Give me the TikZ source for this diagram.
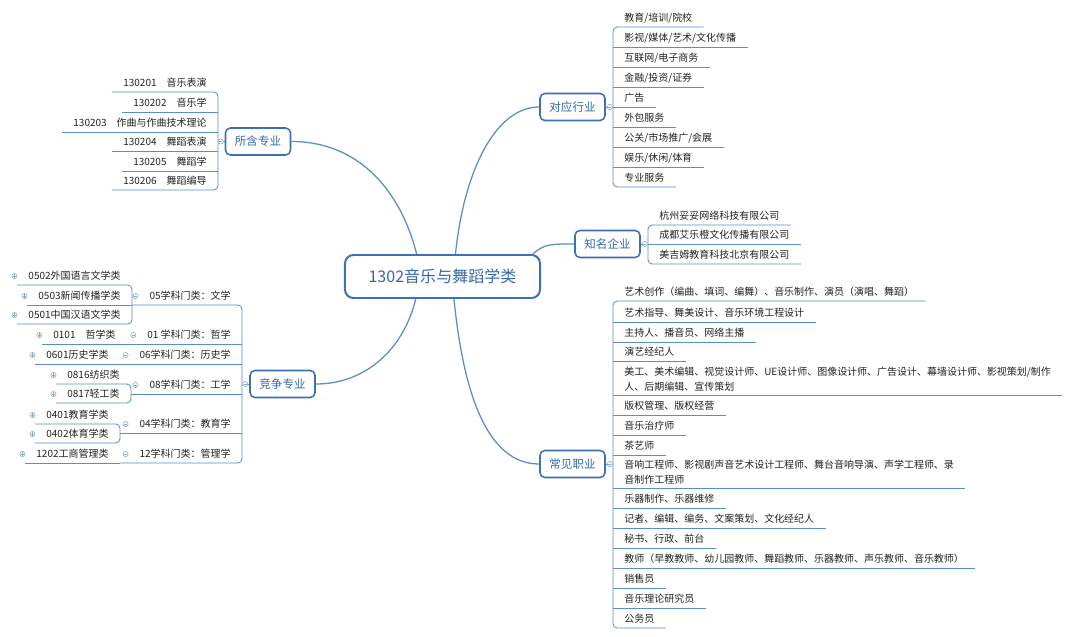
\documentclass[tikz,border=0pt]{standalone}
\usepackage{fontspec}
\setmainfont{Noto Sans CJK SC}

\definecolor{linkblue}{HTML}{5B8DCB}
\definecolor{boxblue}{HTML}{3E70B4}
\definecolor{textblue}{HTML}{3468AE}
\definecolor{markgray}{HTML}{8EA6C6}
\definecolor{leaftext}{HTML}{222222}

\tikzset{
rootbox/.style={draw=boxblue, line width=1.4pt, rounded corners=6pt, fill=white,
  text=textblue, minimum width=4.875cm, minimum height=1.075cm,
  font=\fontsize{11.4}{13}\selectfont},
branchbox/.style={draw=boxblue, line width=1.1pt, rounded corners=3.5pt, fill=white,
  text=textblue, minimum width=1.625cm, minimum height=0.675cm,
  font=\fontsize{8.2}{9.5}\selectfont},
topic/.style={inner xsep=0.28cm, inner ysep=2.4pt, text height=6.2pt, text depth=1.3pt, text=leaftext},
topictwo/.style={inner xsep=0.28cm, inner ysep=2.4pt, align=left, text=leaftext},
link/.style={draw=linkblue, line width=0.9pt},
uline/.style={draw=linkblue, line width=0.6pt, rounded corners=3pt},
markminus/.style={circle, draw=markgray, line width=0.4pt, fill=white, inner sep=0pt, minimum size=0.13cm,
  path picture={\draw[markgray, line width=0.4pt]
    ([xshift=-0.04cm]path picture bounding box.center) -- ([xshift=0.04cm]path picture bounding box.center);}},
markplus/.style={circle, draw=markgray, line width=0.4pt, fill=white, inner sep=0pt, minimum size=0.13cm,
  path picture={\draw[markgray, line width=0.4pt]
    ([xshift=-0.04cm]path picture bounding box.center) -- ([xshift=0.04cm]path picture bounding box.center)
    ([yshift=-0.04cm]path picture bounding box.center) -- ([yshift=0.04cm]path picture bounding box.center);}}
}

\begin{document}
\begin{tikzpicture}[x=0.025cm, y=-0.025cm, font=\fontsize{7.1}{10.7}\selectfont]

\useasboundingbox[fill=white] (0,0) rectangle (1080,637);

%%%%%%%%%%%%%%%%%%%%%%%%%%%%%%%%%%%%%%%%%%%%%%%%%%%%%%%%%%%%
% ROOT AND MAIN BRANCHES
%%%%%%%%%%%%%%%%%%%%%%%%%%%%%%%%%%%%%%%%%%%%%%%%%%%%%%%%%%%%

\node[rootbox](root) at (442.5,276.5) {1302音乐与舞蹈学类};

\node[branchbox](zhuanye) at (258,141.5) {所含专业};
\node[branchbox](hangye) at (572.5,107) {对应行业};
\node[branchbox](qiye) at (607.5,244) {知名企业};
\node[branchbox](jingzheng) at (282.5,384) {竞争专业};
\node[branchbox](zhiye) at (572.5,464) {常见职业};

\draw[link] (root.139) .. controls +(-15,-60) and +(70,0) .. (zhuanye.east);
\draw[link] (root.60) .. controls +(8,-80) and +(-45,0) .. (hangye.west);
\draw[link] (root.14) .. controls +(12,-10) and +(-25,0) .. (qiye.west);
\draw[link] (root.220) .. controls +(-12,50) and +(50,0) .. (jingzheng.east);
\draw[link] (root.297) .. controls +(10,100) and +(-50,0) .. (zhiye.west);

%%%%%%%%%%%%%%%%%%%%%%%%%%%%%%%%%%%%%%%%%%%%%%%%%%%%%%%%%%%%
% 对应行业
%%%%%%%%%%%%%%%%%%%%%%%%%%%%%%%%%%%%%%%%%%%%%%%%%%%%%%%%%%%%

\node[topic, anchor=south west](hy1) at (613,27) {教育/培训/院校};
\node[topic, anchor=south west](hy2) at (613,47) {影视/媒体/艺术/文化传播};
\node[topic, anchor=south west](hy3) at (613,67) {互联网/电子商务};
\node[topic, anchor=south west](hy4) at (613,87) {金融/投资/证券};
\node[topic, anchor=south west](hy5) at (613,107) {广告};
\node[topic, anchor=south west](hy6) at (613,127) {外包服务};
\node[topic, anchor=south west](hy7) at (613,147) {公关/市场推广/会展};
\node[topic, anchor=south west](hy8) at (613,167) {娱乐/休闲/体育};
\node[topic, anchor=south west](hy9) at (613,187) {专业服务};

\draw[uline] (hy1.south east) -- (hy1.south west) -- (hy9.south west) -- (hy9.south east);
\foreach \k in {2,...,8}
  \draw[uline] (hy\k.south west) -- (hy\k.south east);
\draw[uline] (hangye.east) -- (hangye.east -| hy1.south west);
\node[markminus](hym) at ([xshift=0.1cm]hangye.east) {};

%%%%%%%%%%%%%%%%%%%%%%%%%%%%%%%%%%%%%%%%%%%%%%%%%%%%%%%%%%%%
% 知名企业
%%%%%%%%%%%%%%%%%%%%%%%%%%%%%%%%%%%%%%%%%%%%%%%%%%%%%%%%%%%%

\node[topic, anchor=south west](qy1) at (648,225) {杭州妥妥网络科技有限公司};
\node[topic, anchor=south west](qy2) at (648,244) {成都艾乐橙文化传播有限公司};
\node[topic, anchor=south west](qy3) at (648,264) {美吉姆教育科技北京有限公司};

\draw[uline] (qy1.south east) -- (qy1.south west) -- (qy3.south west) -- (qy3.south east);
\draw[uline] (qy2.south west) -- (qy2.south east);
\draw[uline] (qiye.east) -- (qy2.south west);
\node[markminus](qym) at ([xshift=0.1cm]qiye.east) {};

%%%%%%%%%%%%%%%%%%%%%%%%%%%%%%%%%%%%%%%%%%%%%%%%%%%%%%%%%%%%
% 常见职业
%%%%%%%%%%%%%%%%%%%%%%%%%%%%%%%%%%%%%%%%%%%%%%%%%%%%%%%%%%%%

\node[topic, anchor=south west](zy1) at (613,301) {艺术创作（编曲、填词、编舞）、音乐制作、演员（演唱、舞蹈）};
\node[topic, anchor=south west](zy2) at (613,322) {艺术指导、舞美设计、音乐环境工程设计};
\node[topic, anchor=south west](zy3) at (613,342) {主持人、播音员、网络主播};
\node[topic, anchor=south west](zy4) at (613,361) {演艺经纪人};
\node[topictwo, anchor=south west](zy5) at (613,395)
{美工、美术编辑、视觉设计师、UE设计师、图像设计师、广告设计、幕墙设计师、影视策划/制作\\人、后期编辑、宣传策划};
\node[topic, anchor=south west](zy6) at (613,415) {版权管理、版权经营};
\node[topic, anchor=south west](zy7) at (613,435) {音乐治疗师};
\node[topic, anchor=south west](zy8) at (613,455) {茶艺师};
\node[topictwo, anchor=south west](zy9) at (613,488)
{音响工程师、影视剧声音艺术设计工程师、舞台音响导演、声学工程师、录\\音制作工程师};
\node[topic, anchor=south west](zy10) at (613,508) {乐器制作、乐器维修};
\node[topic, anchor=south west](zy11) at (613,528) {记者、编辑、编务、文案策划、文化经纪人};
\node[topic, anchor=south west](zy12) at (613,548) {秘书、行政、前台};
\node[topic, anchor=south west](zy13) at (613,568) {教师（早教教师、幼儿园教师、舞蹈教师、乐器教师、声乐教师、音乐教师）};
\node[topic, anchor=south west](zy14) at (613,588) {销售员};
\node[topic, anchor=south west](zy15) at (613,608) {音乐理论研究员};
\node[topic, anchor=south west](zy16) at (613,628) {公务员};

\draw[uline] (zy1.south east) -- (zy1.south west) -- (zy16.south west) -- (zy16.south east);
\foreach \k in {2,...,15}
  \draw[uline] (zy\k.south west) -- (zy\k.south east);
\draw[uline] (zhiye.east) -- (zhiye.east -| zy1.south west);
\node[markminus](zym) at ([xshift=0.1cm]zhiye.east) {};

%%%%%%%%%%%%%%%%%%%%%%%%%%%%%%%%%%%%%%%%%%%%%%%%%%%%%%%%%%%%
% 所含专业
%%%%%%%%%%%%%%%%%%%%%%%%%%%%%%%%%%%%%%%%%%%%%%%%%%%%%%%%%%%%

\node[topic, anchor=south east](zh1) at (218,92) {130201　音乐表演};
\node[topic, anchor=south east](zh2) at (218,112) {130202　音乐学};
\node[topic, anchor=south east](zh3) at (218,132) {130203　作曲与作曲技术理论};
\node[topic, anchor=south east](zh4) at (218,151) {130204　舞蹈表演};
\node[topic, anchor=south east](zh5) at (218,171) {130205　舞蹈学};
\node[topic, anchor=south east](zh6) at (218,190) {130206　舞蹈编导};

\draw[uline] (zh1.south west) -- (zh1.south east) -- (zh6.south east) -- (zh6.south west);
\foreach \k in {2,...,5}
  \draw[uline] (zh\k.south west) -- (zh\k.south east);
\draw[uline] (zhuanye.west) -- (zhuanye.west -| zh1.south east);
\node[markminus](zhm) at ([xshift=-0.1cm]zhuanye.west) {};

%%%%%%%%%%%%%%%%%%%%%%%%%%%%%%%%%%%%%%%%%%%%%%%%%%%%%%%%%%%%
% 竞争专业
%%%%%%%%%%%%%%%%%%%%%%%%%%%%%%%%%%%%%%%%%%%%%%%%%%%%%%%%%%%%

% subject groups
\node[topic, anchor=south east](jz05) at (242,305) {05学科门类：文学};
\node[topic, anchor=south east](jz01) at (242,344) {01 学科门类：哲学};
\node[topic, anchor=south east](jz06) at (242,364) {06学科门类：历史学};
\node[topic, anchor=south east](jz08) at (242,394) {08学科门类：工学};
\node[topic, anchor=south east](jz04) at (242,433) {04学科门类：教育学};
\node[topic, anchor=south east](jz12) at (242,463) {12学科门类：管理学};

% majors
\node[topic, anchor=south east](jz0502) at (132,285) {0502外国语言文学类};
\node[topic, anchor=south east](jz0503) at (132,305) {0503新闻传播学类};
\node[topic, anchor=south east](jz0501) at (132,324) {0501中国汉语文学类};
\node[topic, anchor=south east](jz0101) at (127,344) {0101　哲学类};
\node[topic, anchor=south east](jz0601) at (120,364) {0601历史学类};
\node[topic, anchor=south east](jz0816) at (131,384) {0816纺织类};
\node[topic, anchor=south east](jz0817) at (131,403) {0817轻工类};
\node[topic, anchor=south east](jz0401) at (120,424) {0401教育学类};
\node[topic, anchor=south east](jz0402) at (120,443) {0402体育学类};
\node[topic, anchor=south east](jz1202) at (120,463) {1202工商管理类};

% main bracket
\draw[uline] (jz0503.south east) -- (jz05.south east) -- (jz12.south east) -- (jz1202.south east);
\draw[uline] (jz0101.south east) -- (jz01.south east);
\draw[uline] (jz0601.south east) -- (jz06.south east);
\draw[uline] (jz0816.south east |- jz08.south) -- (jz08.south east);
\draw[uline] (jz0401.south east |- jz04.south) -- (jz04.south east);
\draw[uline] (jingzheng.west) -- (jingzheng.west -| jz05.south east);

% sub brackets
\draw[uline] (jz0502.south west) -- (jz0502.south east) -- (jz0501.south east) -- (jz0501.south west);
\draw[uline] (jz0816.south west) -- (jz0816.south east) -- (jz0817.south east) -- (jz0817.south west);
\draw[uline] (jz0401.south west) -- (jz0401.south east) -- (jz0402.south east) -- (jz0402.south west);
\foreach \m in {0503,0101,0601,1202}
  \draw[uline] (jz\m.south west) -- (jz\m.south east);

% fold marks
\node[markminus](jzm) at ([xshift=-0.1cm]jingzheng.west) {};
\foreach \m in {05,01,06,08,04,12}
  \node[markminus](mk\m) at ([xshift=-0.0625cm]jz\m.west) {};
\foreach \m in {0502,0503,0501,0101,0601,0816,0817,0401,0402,1202}
  \node[markplus](mk\m) at ([xshift=-0.0625cm]jz\m.west) {};

\end{tikzpicture}
\end{document}
